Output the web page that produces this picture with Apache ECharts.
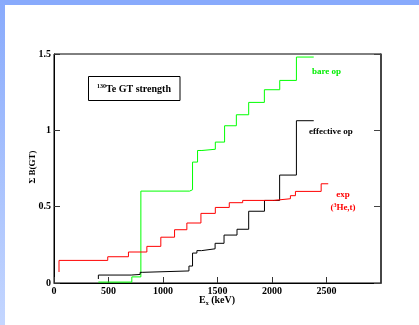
<!DOCTYPE html>
<html>
<head>
<meta charset="utf-8">
<script src="https://cdn.jsdelivr.net/npm/echarts@6/dist/echarts.min.js"></script>
<style>html,body{margin:0;padding:0;background:#fff;}#c{width:419px;height:325px;}</style>
</head>
<body>
<div id="c"></div>
<script>
// ---- data (keV, cumulative B(GT)) ----
var xTicks = [0, 500, 1000, 1500, 2000, 2500];
var yTicks = [0, 0.5, 1, 1.5];

var bareX = [407, 714, 797, 1244, 1271, 1317, 1357, 1480, 1565, 1673, 1786, 1930, 2071, 2224, 2383];
var bareY = [0.006, 0.04, 0.602, 0.611, 0.792, 0.868, 0.876, 0.923, 1.030, 1.102, 1.183, 1.266, 1.327, 1.48, 1.48];

var effX = [407, 407, 708, 790, 815, 1238, 1271, 1311, 1354, 1478, 1560, 1679, 1786, 1931, 2070, 2224, 2383];
var effY = [0.026, 0.052, 0.056, 0.070, 0.079, 0.111, 0.196, 0.212, 0.224, 0.260, 0.314, 0.352, 0.470, 0.541, 0.707, 1.063, 1.063];

var expX = [46, 46, 493, 683, 852, 980, 1106, 1219, 1348, 1480, 1608, 1731, 2016, 2169, 2215, 2451, 2516];
var expY = [0.072, 0.148, 0.172, 0.203, 0.240, 0.300, 0.349, 0.393, 0.456, 0.495, 0.526, 0.541, 0.552, 0.572, 0.600, 0.650, 0.650];

function pairs(xs, ys) { return xs.map(function (x, i) { return [x, ys[i]]; }); }

var serif = '"Liberation Serif", "DejaVu Serif", serif';
var chart = echarts.init(document.getElementById('c'), null, { renderer: 'canvas' });

var xb = {
  type: 'value', position: 'bottom', min: 0, max: 3000, interval: 500,
  axisLine: { show: true, onZero: false, lineStyle: { color: '#000', width: 1 } },
  axisTick: { show: true, inside: true, length: 6, lineStyle: { color: '#333', width: 1 } },
  splitLine: { show: false },
  axisLabel: { color: '#000', fontFamily: serif, fontWeight: 'bold', fontSize: 10, margin: 3, showMaxLabel: false,
    formatter: function (v) { return String(v); } }
};
var yl = {
  type: 'value', position: 'left', min: 0, max: 1.5, interval: 0.5,
  axisLine: { show: true, onZero: false, lineStyle: { color: '#000', width: 1 } },
  axisTick: { show: true, inside: true, length: 6, lineStyle: { color: '#333', width: 1 } },
  splitLine: { show: false },
  axisLabel: { color: '#000', fontFamily: serif, fontWeight: 'bold', fontSize: 10, margin: 3,
    formatter: function (v) { return String(v); } }
};
var yr = {
  type: 'value', position: 'right', min: 0, max: 1.5, interval: 0.5,
  axisLine: { show: true, onZero: false, lineStyle: { color: '#333', width: 1.5 } },
  axisTick: { show: true, inside: true, length: 7, lineStyle: { color: '#444', width: 1 } },
  splitLine: { show: false },
  axisLabel: { show: false }
};

function stepSeries(name, xs, ys, color, yi) {
  return {
    name: name, type: 'line', step: 'end', data: pairs(xs, ys),
    xAxisIndex: 0, yAxisIndex: yi, symbol: 'none', animation: false,
    lineStyle: { color: color, width: 1 }
  };
}

chart.setOption({
  animation: false,
  backgroundColor: '#fff',
  grid: { left: 54, top: 54, right: 38, bottom: 42, show: true, borderColor: '#000', borderWidth: 1, backgroundColor: 'transparent' },
  xAxis: [xb],
  yAxis: [yl, yr],
  series: [
    stepSeries('bare op', bareX, bareY, '#00ff00', 0),
    stepSeries('effective op', effX, effY, '#000000', 0),
    stepSeries('exp', expX, expY, '#ff0000', 1)
  ],
  graphic: [
    { type: 'rect', shape: { x: 0, y: 0, width: 419, height: 5 }, style: { fill: '#88aafc' }, silent: true },
    { type: 'rect', shape: { x: 0, y: 0, width: 5, height: 325 },
      style: { fill: new echarts.graphic.LinearGradient(0, 0, 0, 1, [{ offset: 0, color: '#88aafc' }, { offset: 1, color: '#c4d6ff' }]) }, silent: true },
    { type: 'rect', shape: { x: 88.5, y: 76.5, width: 91.5, height: 24 }, style: { fill: '#fff', stroke: '#000', lineWidth: 1 } },
    { type: 'text', x: 134, y: 89, style: {
        text: '{s|130}{n|Te GT strength}', align: 'center', verticalAlign: 'middle',
        rich: { s: { fontFamily: serif, fontWeight: 'bold', fontSize: 6, padding: [0, 0, 6, 0] },
                n: { fontFamily: serif, fontWeight: 'bold', fontSize: 10 } } } },
    { type: 'text', x: 312, y: 72, style: { text: 'bare op', fill: '#00ee00', fontFamily: serif, fontSize: 9, fontWeight: 'bold', verticalAlign: 'middle' } },
    { type: 'text', x: 309, y: 132, style: { text: 'effective op', fill: '#000', fontFamily: serif, fontSize: 9, fontWeight: 'bold', verticalAlign: 'middle' } },
    { type: 'text', x: 343, y: 195, style: { text: 'exp', fill: '#ff0000', fontFamily: serif, fontSize: 9, fontWeight: 'bold', align: 'center', verticalAlign: 'middle' } },
    { type: 'text', x: 343, y: 208, style: {
        text: '({s|3}{n|He,t)}', align: 'center', verticalAlign: 'middle', fill: '#ff0000', fontFamily: serif, fontSize: 9, fontWeight: 'bold',
        rich: { s: { fill: '#ff0000', fontFamily: serif, fontWeight: 'bold', fontSize: 6, padding: [0, 0, 5, 0] },
                n: { fill: '#ff0000', fontFamily: serif, fontWeight: 'bold', fontSize: 9 } } } },
    { type: 'text', x: 217, y: 300, style: {
        text: '{n|E}{s|x}{n| (keV)}', align: 'center', verticalAlign: 'middle',
        rich: { n: { fontFamily: serif, fontWeight: 'bold', fontSize: 10 },
                s: { fontFamily: serif, fontWeight: 'bold', fontSize: 6, padding: [6, 0, 0, 0] } } } },
    { type: 'text', x: 33, y: 167, rotation: Math.PI / 2, style: {
        text: 'Σ B(GT)', align: 'center', verticalAlign: 'middle', fill: '#000', fontFamily: serif, fontSize: 9, fontWeight: 'bold' } }
  ]
});
</script>
</body>
</html>
